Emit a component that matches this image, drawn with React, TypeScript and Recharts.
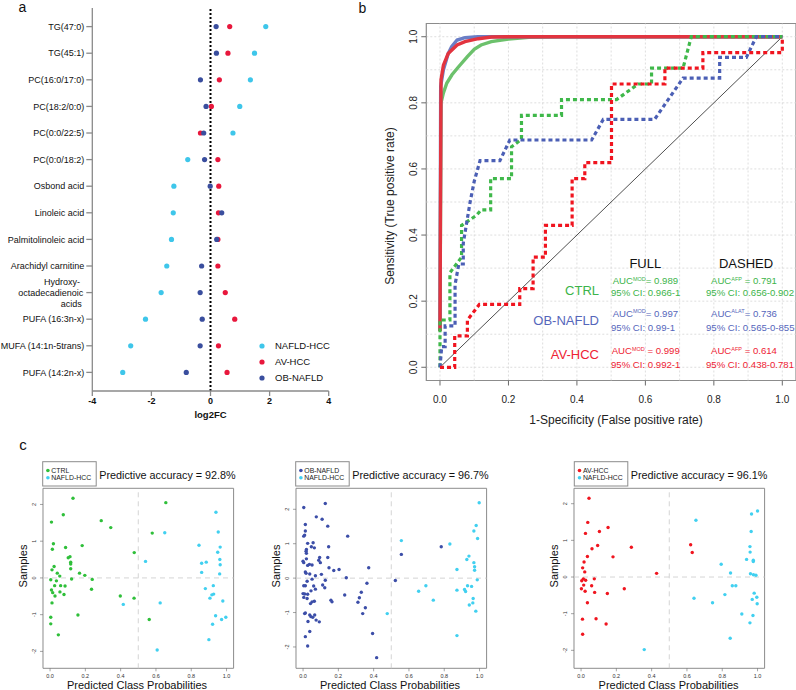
import React from 'react';
import { ScatterChart, Scatter, XAxis, YAxis, ReferenceLine, ReferenceArea, LineChart, Line } from 'recharts';

const FONT = "Arial, 'Liberation Sans', Helvetica, sans-serif";

// ---------- Panel a: log2 fold changes ----------
const lipidNames = [
  'TG(47:0)', 'TG(45:1)', 'PC(16:0/17:0)', 'PC(18:2/0:0)', 'PC(0:0/22:5)', 'PC(0:0/18:2)',
  'Osbond acid', 'Linoleic acid', 'Palmitolinoleic acid', 'Arachidyl carnitine',
  'Hydroxy-\noctadecadienoic\nacids', 'PUFA (16:3n-x)', 'MUFA (14:1n-5trans)', 'PUFA (14:2n-x)',
];
const nafldHccFC = [1.87, 1.49, 1.35, 0.99, 0.76, -0.77, -1.24, -1.26, -1.32, -1.48, -1.67, -2.2, -2.7, -2.97];
const avHccFC = [0.65, 0.59, 0.3, 0.03, -0.34, 0.25, 0.28, 0.27, 0.25, 0.25, 0.5, 0.82, 0.27, 0.56];
const obNafldFC = [0.19, 0.2, -0.34, -0.15, -0.23, -0.2, -0.01, 0.38, 0.21, -0.3, -0.35, -0.28, -0.35, -0.82];
const fcTicks = [-4, -2, 0, 2, 4];
const rowTicks = lipidNames.map((_, i) => i);
const panelALegend = ['NAFLD-HCC', 'AV-HCC', 'OB-NAFLD'];

// ---------- Panel b: ROC curves (FPR, TPR) ----------
const rocCtrlFull: [number, number][] = [[0, 0.11], [0.003, 0.8], [0.01, 0.83], [0.02, 0.86], [0.035, 0.885], [0.055, 0.91], [0.08, 0.94], [0.1, 0.962], [0.12, 0.975], [0.15, 0.985], [0.2, 0.993], [0.26, 0.998], [0.35, 1], [1, 1]];
const rocObFull: [number, number][] = [[0, 0.11], [0.002, 0.85], [0.01, 0.9], [0.024, 0.949], [0.034, 0.97], [0.05, 0.99], [0.073, 0.997], [0.11, 1], [1, 1]];
const rocAvFull: [number, number][] = [[0, 0.11], [0.003, 0.87], [0.01, 0.914], [0.024, 0.949], [0.05, 0.975], [0.073, 0.985], [0.112, 0.994], [0.15, 0.999], [0.2, 1], [1, 1]];
const rocCtrlAfp: [number, number][] = [[0, 0], [0, 0.143], [0.029, 0.143], [0.029, 0.286], [0.063, 0.333], [0.063, 0.429], [0.107, 0.46], [0.12, 0.476], [0.148, 0.476], [0.148, 0.571], [0.209, 0.571], [0.209, 0.667], [0.238, 0.69], [0.238, 0.762], [0.355, 0.762], [0.355, 0.81], [0.516, 0.81], [0.579, 0.857], [0.618, 0.857], [0.618, 0.905], [0.71, 0.905], [0.734, 1], [1, 1]];
const rocObAlat: [number, number][] = [[0, 0], [0.005, 0.0625], [0.015, 0.0625], [0.015, 0.125], [0.044, 0.125], [0.044, 0.25], [0.055, 0.3125], [0.068, 0.3125], [0.068, 0.375], [0.078, 0.4375], [0.088, 0.5], [0.1, 0.5625], [0.117, 0.625], [0.175, 0.625], [0.204, 0.6875], [0.443, 0.6875], [0.477, 0.75], [0.627, 0.75], [0.71, 0.875], [0.817, 0.875], [0.817, 0.9375], [0.895, 0.9375], [0.924, 1], [1, 1]];
const rocAvAfp: [number, number][] = [[0, 0], [0.043, 0], [0.043, 0.095], [0.08, 0.095], [0.08, 0.143], [0.115, 0.19], [0.233, 0.19], [0.233, 0.238], [0.272, 0.238], [0.272, 0.333], [0.308, 0.333], [0.308, 0.429], [0.386, 0.429], [0.386, 0.571], [0.423, 0.571], [0.423, 0.619], [0.501, 0.619], [0.501, 0.857], [0.657, 0.857], [0.657, 0.905], [0.768, 0.905], [0.768, 0.952], [1, 0.952], [1, 1]];
const rocTicks = [0, 0.2, 0.4, 0.6, 0.8, 1];
const rocGrid = [0, 0.1, 0.2, 0.3, 0.4, 0.5, 0.6, 0.7, 0.8, 0.9, 1];

// ---------- Panel c: class probabilities (probability, sample) ----------
const ctrlPts: [number, number][] = [[0.13, 2.17], [0.008, 1.52], [0.075, 1.72], [0.29, 1.56], [0.344, 1.37], [0.019, 0.93], [0.013, 0.78], [0.088, 0.83], [0.182, 0.88], [0.113, 0.58], [0.103, 0.55], [0.117, 0.43], [0.117, 0.38], [0.023, 0.31], [0.011, 0.22], [0.117, 0.25], [0.041, 0.13], [0.055, 0.05], [0.167, 0.13], [0.197, 0.07], [0.122, -0.03], [0.004, -0.05], [0.036, -0.08], [0.239, -0.04], [0.026, -0.21], [0.06, -0.21], [0.085, -0.22], [0.008, -0.33], [0.015, -0.4], [0.056, -0.38], [0.028, -0.49], [0.079, -0.45], [0.235, -0.31], [0.011, -0.68], [0.477, 0.69], [0.398, -0.49], [0.476, -0.55], [0.579, 1.22], [0.656, 2.05], [0.562, -1.13], [0.158, -1.01], [0.004, -1.07], [0.004, -1.25], [0.047, -1.55]];
const hccVsCtrlPts: [number, number][] = [[0.415, -0.72], [0.541, 0.45], [0.65, 1.23], [0.624, -0.68], [0.607, -1.96], [0.844, 0.89], [0.859, 0.4], [0.859, 0.15], [0.885, 0.43], [0.88, -0.29], [0.94, 1.79], [0.953, 1.25], [0.964, 0.84], [0.95, 0.7], [0.962, 0.5], [0.964, 0.36], [0.961, 0.11], [0.925, -0.21], [0.927, -0.44], [0.917, -0.46], [0.906, -0.55], [0.979, -0.63], [0.938, -1.03], [0.972, -1.13], [0.996, -1.07], [0.921, -1.26], [0.9, -1.68]];
const obPts: [number, number][] = [[0.004, 2.05], [0.126, 2.17], [0.075, 1.78], [0.108, 1.71], [0.14, 1.51], [0.013, 1.56], [0.013, 1.37], [0.009, 1.25], [0.004, 1.22], [0.253, 1.22], [0.026, 1.01], [0.057, 1.03], [0.047, 0.91], [0.064, 0.88], [0.019, 0.83], [0.017, 0.78], [0.145, 0.91], [0.019, 0.72], [0.019, 0.56], [0.094, 0.6], [0.089, 0.52], [0.14, 0.6], [0, 0.49], [0.004, 0.45], [0.026, 0.37], [0.036, 0.4], [0.051, 0.38], [0.098, 0.45], [0.147, 0.3], [0.204, 0.25], [0.174, 0.22], [0.013, 0.18], [0.017, 0.14], [0.038, 0.12], [0.07, 0.07], [0.104, 0.11], [0.245, 0.01], [0.372, 0.3], [0.126, -0.06], [0.051, -0.03], [0.023, -0.09], [0.004, -0.22], [0.013, -0.22], [0.06, -0.23], [0.111, -0.2], [0.123, -0.28], [0.362, -0.15], [0, -0.45], [0.009, -0.46], [0.026, -0.47], [0.045, -0.37], [0.07, -0.32], [0.004, -0.56], [0.023, -0.59], [0.051, -0.69], [0.042, -0.74], [0.064, -0.67], [0.158, -0.64], [0.164, -0.69], [0.236, -0.49], [0.33, -0.41], [0.319, -0.57], [0.311, -0.7], [0.353, -0.86], [0.338, -1.03], [0.009, -1.03], [0.013, -1.01], [0.038, -1.07], [0.045, -1.12], [0.055, -1.14], [0.066, -1.07], [0.074, -1.22], [0.028, -1.26], [0.092, -1.27], [0.038, -1.55], [0.013, -1.7], [0.026, -1.97], [0.394, -1.61], [0.417, -2.31], [0.523, -0.07], [0.557, 0.69], [0.783, 0.91]];
const hccVsObPts: [number, number][] = [[0.557, 1.09], [0.477, -1.03], [0.655, -0.38], [0.696, -0.22], [0.738, -0.64], [0.832, 0.99], [0.872, 0.25], [0.872, -0.35], [0.872, -1.67], [0.928, 0.54], [0.94, 0.64], [0.915, -0.33], [0.921, -0.39], [0.932, -0.22], [0.955, -0.24], [0.942, -0.78], [0.964, -0.59], [0.962, -0.72], [0.979, -0.96], [0.998, 2.19], [0.968, 1.37], [0.981, 1.53], [0.989, 1.15], [0.968, 0.45], [0.972, 0.33], [0.972, 0.23], [0.987, -0.05]];
const avPts: [number, number][] = [[0.045, 2.15], [0.038, 1.49], [0.025, 1.19], [0.104, 1.24], [0.153, 1.35], [0.094, 0.86], [0.062, 0.77], [0.285, 0.81], [0.036, 0.56], [0.181, 0.55], [0.017, 0.41], [0.009, 0.25], [0.021, 0.14], [0.428, 0.1], [0.013, -0.05], [0.026, -0.09], [0.004, -0.1], [0.075, -0.05], [0.015, -0.22], [0.06, -0.24], [0.002, -0.32], [0.023, -0.39], [0.077, -0.42], [0.245, -0.32], [0.149, -0.45], [0.036, -0.7], [0.008, -1.15], [0.085, -1.14], [0.142, -1.28], [0.009, -1.56], [0.621, 0.88], [0.63, 0.67]];
const hccVsAvPts: [number, number][] = [[0.358, -1.98], [0.651, 1.55], [0.64, -0.58], [0.745, -0.7], [0.794, 0.35], [0.847, 0.11], [0.857, -0.24], [0.877, -0.24], [0.815, -0.48], [0.845, -1.67], [0.911, -1.01], [0.938, 0.48], [0.958, 0.68], [0.957, 0.83], [0.964, 1.24], [0.966, 1.72], [1, 1.8], [0.96, 0.09], [0.977, 0.06], [0.991, 0.05], [0.976, 0.46], [0.976, 0.42], [0.981, -0.44], [0.97, -0.61], [0.996, -0.55], [0.998, -0.73], [0.974, -1.05], [0.957, -1.25]];
const probTicks = [0, 0.2, 0.4, 0.6, 0.8, 1];
const sampleTicks = [-2, -1, 0, 1, 2];
const accuracies = ['92.8%', '96.7%', '96.1%'];

const C = {
  aCyan: '#3ec6ea', aRed: '#e8173c', aBlue: '#3a4e9e',
  gText: '#3cb44a', bText: '#5566bb', rText: '#ee2233',
  gFull: '#6cc16c', bFull: '#6a7ec6', rFull: '#e2343f',
  gDash: '#3fb84a', bDash: '#4b5fb5', rDash: '#f0141f',
  cGreen: '#2fbf3a', cCyan: '#41d0f0', cBlue: '#3c4ea8', cRed: '#f0151f',
};

const dotShape = (color: string, r: number) => (p: any) => <circle cx={p.cx} cy={p.cy} r={r} fill={color} />;
const toRows = (vals: number[]) => vals.map((v, i) => ({ fc: v, row: i }));
const toXY = (pts: [number, number][]) => pts.map(([x, y]) => ({ x, y }));
const toPS = (pts: [number, number][]) => pts.map(([p, s]) => ({ p, s }));
const fmt1 = (v: number) => v.toFixed(1);

const LipidTick = (p: any) => {
  const label = lipidNames[p.payload.value];
  if (label === undefined) return null;
  const lines = label.split('\n');
  if (lines.length === 1) {
    return <text x={p.x} y={p.y} dy="0.35em" textAnchor="end" fontSize={9} fontFamily={FONT} fill="#111">{label}</text>;
  }
  const offs = [4.3, 1, 2.6];
  return (
    <text textAnchor="end" fontSize={9} fontFamily={FONT} fill="#111">
      {lines.map((l, i) => <tspan key={i} x={p.x - offs[i]} y={p.y + (i - 1) * 11.2} dy="0.35em">{l}</tspan>)}
    </text>
  );
};

const FcTick = (p: any) => (
  <text x={p.x} y={p.y} dy="0.71em" textAnchor="middle" fontSize={9} fontWeight="bold" fontFamily={FONT} fill="#111">{p.payload.value}</text>
);

const PanelA = () => (
  <div style={{ position: 'absolute', left: 0, top: 0 }}>
    <ScatterChart width={345} height={425} margin={{ top: 8, right: 16.3, bottom: 14, left: 0 }}>
      <XAxis type="number" dataKey="fc" domain={[-4, 4]} ticks={fcTicks} interval={0} height={20} tickSize={5} tickMargin={2}
        axisLine={{ stroke: '#8a8a8a', strokeWidth: 1.3 }} tickLine={{ stroke: '#8a8a8a', strokeWidth: 1.3 }} tick={FcTick} />
      <YAxis type="number" dataKey="row" domain={[-0.7, 13.7]} reversed ticks={rowTicks} interval={0} width={92.3} tickSize={6} tickMargin={2}
        axisLine={{ stroke: '#8a8a8a', strokeWidth: 1.3 }} tickLine={{ stroke: '#8a8a8a', strokeWidth: 1.3 }} tick={LipidTick} />
      <ReferenceLine x={0} stroke="#000" strokeWidth={2} strokeDasharray="2 2" />
      <Scatter data={toRows(nafldHccFC)} shape={dotShape(C.aCyan, 2.6)} isAnimationActive={false} />
      <Scatter data={toRows(avHccFC)} shape={dotShape(C.aRed, 2.6)} isAnimationActive={false} />
      <Scatter data={toRows(obNafldFC)} shape={dotShape(C.aBlue, 2.6)} isAnimationActive={false} />
    </ScatterChart>
  </div>
);

const RocXTick = (p: any) => (
  <text x={p.x} y={p.y} dy="0.71em" textAnchor="middle" fontSize={10} fontFamily={FONT} fill="#222">{fmt1(p.payload.value)}</text>
);
const RocYTick = (p: any) => {
  const bx = p.x - 4.6;
  return <text x={bx} y={p.y} textAnchor="middle" transform={`rotate(-90, ${bx}, ${p.y})`} fontSize={10} fontFamily={FONT} fill="#222">{fmt1(p.payload.value)}</text>;
};

const PanelB = () => (
  <div style={{ position: 'absolute', left: 380, top: 0 }}>
    <LineChart width={416} height={430} margin={{ top: 23.5, right: 0, bottom: 24.5, left: 16.3 }}>
      <XAxis type="number" dataKey="x" domain={[-0.04, 1.04]} ticks={rocTicks} interval={0} allowDataOverflow height={25} tickSize={5} tickMargin={10}
        axisLine={false} tickLine={{ stroke: '#444', strokeWidth: 0.8 }} tick={RocXTick} />
      <YAxis type="number" dataKey="y" domain={[-0.04, 1.04]} ticks={rocTicks} interval={0} allowDataOverflow width={30} tickSize={5} tickMargin={0}
        axisLine={false} tickLine={{ stroke: '#444', strokeWidth: 0.8 }} tick={RocYTick} />
      {rocGrid.map((v) => <ReferenceLine key={'gx' + v} x={v} stroke="#d6d6d6" strokeWidth={0.8} strokeDasharray="2 2" />)}
      {rocGrid.map((v) => <ReferenceLine key={'gy' + v} y={v} stroke="#d6d6d6" strokeWidth={0.8} strokeDasharray="2 2" />)}
      <ReferenceArea x1={-0.04} x2={1.04} y1={-0.04} y2={1.04} fill="none" fillOpacity={0} stroke="#8c8c8c" strokeWidth={1.2} />
      <ReferenceLine segment={[{ x: 0, y: 0 }, { x: 1, y: 1 }]} stroke="#222" strokeWidth={0.8} />
      <Line data={toXY(rocCtrlFull)} dataKey="y" type="linear" stroke={C.gFull} strokeWidth={3.4} dot={false} activeDot={false} isAnimationActive={false} />
      <Line data={toXY(rocObFull)} dataKey="y" type="linear" stroke={C.bFull} strokeWidth={3.4} dot={false} activeDot={false} isAnimationActive={false} />
      <Line data={toXY(rocAvFull)} dataKey="y" type="linear" stroke={C.rFull} strokeWidth={3.4} dot={false} activeDot={false} isAnimationActive={false} />
      <Line data={toXY(rocCtrlAfp)} dataKey="y" type="linear" stroke={C.gDash} strokeWidth={3.2} strokeDasharray="4 3" dot={false} activeDot={false} isAnimationActive={false} />
      <Line data={toXY(rocObAlat)} dataKey="y" type="linear" stroke={C.bDash} strokeWidth={3.2} strokeDasharray="4 3" dot={false} activeDot={false} isAnimationActive={false} />
      <Line data={toXY(rocAvAfp)} dataKey="y" type="linear" stroke={C.rDash} strokeWidth={3.2} strokeDasharray="4 3" dot={false} activeDot={false} isAnimationActive={false} />
    </LineChart>
  </div>
);

const ProbXTick = (p: any) => (
  <text x={p.x} y={p.y} dy="0.71em" textAnchor="middle" fontSize={5.5} fontFamily={FONT} fill="#333">{fmt1(p.payload.value)}</text>
);
const SampleYTick = (p: any) => {
  const bx = p.x - 2.4;
  return <text x={bx} y={p.y} textAnchor="middle" transform={`rotate(-90, ${bx}, ${p.y})`} fontSize={5.5} fontFamily={FONT} fill="#333">{p.payload.value}</text>;
};

const FRAME_W = 190.6;
const ClassPanel = ({ frameLeft, yDomain, series }: { frameLeft: number; yDomain: [number, number]; series: { pts: [number, number][]; color: string }[] }) => {
  const padL = 45;
  return (
    <div style={{ position: 'absolute', left: frameLeft - padL, top: 440 }}>
      <ScatterChart width={padL + FRAME_W + 5} height={250} margin={{ top: 48.3, right: 5, bottom: 9.7, left: 30 }}>
        <XAxis type="number" dataKey="p" domain={[-0.04, 1.04]} ticks={probTicks} interval={0} allowDataOverflow height={12} tickSize={3} tickMargin={3}
          axisLine={false} tickLine={{ stroke: '#666', strokeWidth: 0.6 }} tick={ProbXTick} />
        <YAxis type="number" dataKey="s" domain={yDomain} ticks={sampleTicks} interval={0} allowDataOverflow width={15} tickSize={3} tickMargin={2}
          axisLine={false} tickLine={{ stroke: '#666', strokeWidth: 0.6 }} tick={SampleYTick} />
        <ReferenceArea x1={-0.04} x2={1.04} y1={yDomain[0]} y2={yDomain[1]} fill="none" fillOpacity={0} stroke="#8c8c8c" strokeWidth={1} />
        <ReferenceLine x={0.5} stroke="#cfcfcf" strokeWidth={0.9} strokeDasharray="5 4" />
        <ReferenceLine y={0} stroke="#cfcfcf" strokeWidth={0.9} strokeDasharray="5 4" />
        {series.map((s, i) => (
          <Scatter key={i} data={toPS(s.pts)} shape={dotShape(s.color, 1.7)} isAnimationActive={false} />
        ))}
      </ScatterChart>
    </div>
  );
};

const cPanels = [
  { frameLeft: 42.7, yDomain: [-2.46, 2.44] as [number, number], first: 'CTRL', firstColor: C.cGreen, series: [{ pts: ctrlPts, color: C.cGreen }, { pts: hccVsCtrlPts, color: C.cCyan }] },
  { frameLeft: 295.7, yDomain: [-2.62, 2.61] as [number, number], first: 'OB-NAFLD', firstColor: C.cBlue, series: [{ pts: obPts, color: C.cBlue }, { pts: hccVsObPts, color: C.cCyan }] },
  { frameLeft: 574.3, yDomain: [-2.49, 2.42] as [number, number], first: 'AV-HCC', firstColor: C.cRed, series: [{ pts: avPts, color: C.cRed }, { pts: hccVsAvPts, color: C.cCyan }] },
];

const Auc = ({ x, y, color, sup, rest }: { x: number; y: number; color: string; sup: string; rest: string }) => (
  <text x={x} y={y} fill={color} fontSize={9.6} fontFamily={FONT}>
    AUC<tspan fontSize={5.5} dy={-3.5}>{sup}</tspan><tspan dy={3.5}>{rest}</tspan>
  </text>
);
const Ci = ({ x, y, color, t }: { x: number; y: number; color: string; t: string }) => (
  <text x={x} y={y} fill={color} fontSize={9.6} fontFamily={FONT}>{t}</text>
);

const Overlay = () => (
  <svg width={796} height={690} style={{ position: 'absolute', left: 0, top: 0, pointerEvents: 'none' }}>
    {/* panel letters */}
    <text x={22.5} y={12} textAnchor="middle" fontSize={14} fontFamily={FONT} fill="#111">a</text>
    <text x={362.5} y={12.5} textAnchor="middle" fontSize={14} fontFamily={FONT} fill="#111">b</text>
    <text x={23} y={450} textAnchor="middle" fontSize={15} fontFamily={FONT} fill="#111">c</text>

    {/* panel a */}
    <text x={210.5} y={417.5} textAnchor="middle" fontSize={9.5} fontWeight="bold" fontFamily={FONT} fill="#111">log2FC</text>
    {panelALegend.map((t, i) => (
      <g key={t}>
        <circle cx={262} cy={346 + i * 16} r={2.6} fill={[C.aCyan, C.aRed, C.aBlue][i]} />
        <text x={275} y={346 + i * 16} dy="0.35em" fontSize={9.5} fontFamily={FONT} fill="#111">{t}</text>
      </g>
    ))}

    {/* panel b */}
    <text x={390} y={202} textAnchor="middle" transform="rotate(-90, 394, 202)" fontSize={12} fontFamily={FONT} fill="#222">Sensitivity (True positive rate)</text>
    <text x={616} y={424} textAnchor="middle" fontSize={12} fontFamily={FONT} fill="#222">1-Specificity (False positive rate)</text>
    <text x={645.3} y={267.7} textAnchor="middle" fontSize={13} fontFamily={FONT} fill="#111">FULL</text>
    <text x={746} y={267.7} textAnchor="middle" fontSize={13} fontFamily={FONT} fill="#111">DASHED</text>
    <text x={599} y={295.3} textAnchor="end" fontSize={13} fontFamily={FONT} fill={C.gText}>CTRL</text>
    <text x={599} y={325.3} textAnchor="end" fontSize={13} fontFamily={FONT} fill={C.bText}>OB-NAFLD</text>
    <text x={599} y={359} textAnchor="end" fontSize={13} fontFamily={FONT} fill={C.rText}>AV-HCC</text>
    <Auc x={612.7} y={284.2} color={C.gText} sup="MOD" rest="= 0.989" />
    <Ci x={611} y={295.8} color={C.gText} t="95% CI: 0.966-1" />
    <Auc x={711} y={284.2} color={C.gText} sup="AFP" rest=" = 0.791" />
    <Ci x={706} y={295.8} color={C.gText} t="95% CI: 0.656-0.902" />
    <Auc x={612.7} y={316.8} color={C.bText} sup="MOD" rest="= 0.997" />
    <Ci x={611} y={331.2} color={C.bText} t="95% CI: 0.99-1" />
    <Auc x={711} y={316.8} color={C.bText} sup="ALAT" rest="= 0.736" />
    <Ci x={706} y={331.2} color={C.bText} t="95% CI: 0.565-0-855" />
    <Auc x={611.7} y={354.2} color={C.rText} sup="MOD" rest=" = 0.999" />
    <Ci x={611} y={368.2} color={C.rText} t="95% CI: 0.992-1" />
    <Auc x={711} y={354.2} color={C.rText} sup="AFP" rest=" = 0.614" />
    <Ci x={706} y={368.2} color={C.rText} t="95% CI: 0.438-0.781" />

    {/* panel c */}
    {cPanels.map((cp, i) => {
      const L = cp.frameLeft;
      return (
        <g key={i}>
          <rect x={L} y={461.7} width={53.5} height={24.3} fill="#fff" stroke="#8c8c8c" strokeWidth={1} />
          <circle cx={L + 5.2} cy={470.5} r={1.8} fill={cp.firstColor} />
          <text x={L + 8.6} y={470.5} dy="0.35em" fontSize={6.9} fontFamily={FONT} fill="#222">{cp.first}</text>
          <circle cx={L + 5.2} cy={477.8} r={1.8} fill={C.cCyan} />
          <text x={L + 8.6} y={477.8} dy="0.35em" fontSize={6.9} fontFamily={FONT} fill="#222">NAFLD-HCC</text>
          <text x={L + 56.5} y={479} fontSize={10.8} fontFamily={FONT} fill="#111">{'Predictive accuracy = ' + accuracies[i]}</text>
          <text x={L - 20} y={562} textAnchor="middle" transform={`rotate(-90, ${L - 16}, 562)`} fontSize={11} fontFamily={FONT} fill="#111">Samples</text>
          <text x={L + FRAME_W / 2 - 1} y={689.3} textAnchor="middle" fontSize={11} fontFamily={FONT} fill="#111">Predicted Class Probabilities</text>
        </g>
      );
    })}
  </svg>
);

export default function App() {
  return (
    <div style={{ position: 'absolute', left: 0, top: 0, width: 796, height: 690, background: '#fff', overflow: 'hidden', fontFamily: FONT }}>
      <PanelA />
      <PanelB />
      {cPanels.map((cp, i) => (
        <ClassPanel key={i} frameLeft={cp.frameLeft} yDomain={cp.yDomain} series={cp.series} />
      ))}
      <Overlay />
    </div>
  );
}
